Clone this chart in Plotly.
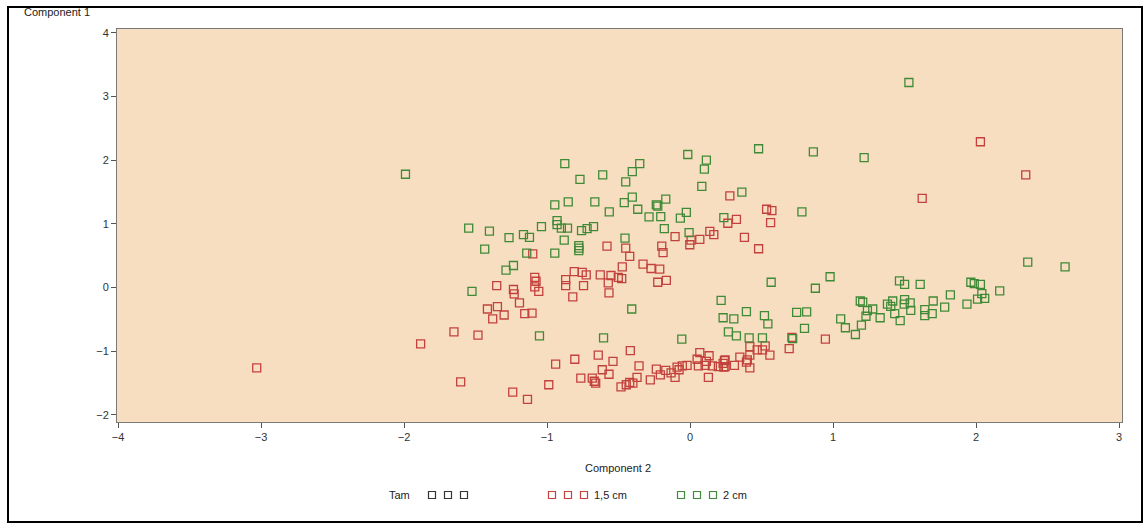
import plotly.graph_objects as go

# ---- data ----
red_x = [-3.03, -1.884, -1.651, -1.604, -1.483, -1.417, -1.347, -1.38, -1.30, -1.24, -1.193, -1.137,
         -1.156, -1.105, -1.352, -1.235, -1.23, -1.10, -1.086, -1.077, -1.086, -1.058, -0.988, -0.94,
         -0.87, -0.87, -0.82, -0.81, -0.806, -0.764, -0.754, -0.745, -0.726, -0.684, -0.67, -0.66,
         -0.642, -0.628, -0.614, -0.581, -0.572, -0.567, -0.567, -0.553, -0.539, -0.502, -0.483,
         -0.478, -0.474, -0.45, -0.446, -0.422, -0.422, -0.418, -0.40, -0.371, -0.357, -0.329,
         -0.278, -0.273, -0.236, -0.226, -0.212, -0.208, -0.198, -0.189, -0.17, -0.166, -0.133,
         -0.105, -0.105, -0.091, -0.077, -0.054, -0.021, -0.002, 0.007, 0.049, 0.058, 0.068, 0.068,
         0.105, 0.114, 0.128, 0.133, 0.138, 0.156, 0.166, 0.198, 0.231, 0.236, 0.24, 0.245, 0.245,
         0.264, 0.278, 0.31, 0.324, 0.348, 0.38, 0.394, 0.40, 0.418, 0.418, 0.418, 0.469, 0.479,
         0.506, 0.525, 0.535, 0.558, 0.563, 0.572, 0.693, 0.712, 0.946, 1.623, 2.03, 2.347]
red_y = [-1.26, -0.883, -0.694, -1.48, -0.746, -0.336, -0.30, -0.49, -0.43, -1.64, -0.24, -1.755,
         -0.41, -0.40, 0.03, -0.03, -0.10, 0.53, 0.16, 0.10, 0.01, -0.06, -1.525, -1.20,
         0.126, 0.03, -0.147, 0.25, -1.125, -1.42, 0.24, 0.03, 0.20, -1.42, -1.47, -1.50,
         -1.06, 0.20, -1.29, 0.65, 0.074, -0.084, -1.36, 0.19, -1.157, 0.16, -1.557,
         0.14, 0.326, 0.62, -1.525, 0.49, -1.49, -0.99, -1.50, -1.41, -1.23, 0.37,
         -1.45, 0.30, -1.28, 0.084, 0.29, -1.37, 0.65, 0.55, -1.30, 0.115, -1.34,
         0.80, -1.41, -1.25, -1.29, -1.23, -1.22, 0.673, 0.746, -1.125, -1.23, 0.757, -1.02,
         -1.22, -1.157, -1.41, -1.07, 0.883, -1.23, 0.831, -1.24, -1.19, -1.25, -1.147, -1.136, -1.24,
         1.01, 1.44, -1.22, 1.07, -1.09, 0.79, -1.17, -1.136, -0.926, -1.06, -1.26, -0.978, 0.61,
         -0.978, -0.915, 1.23, -1.06, 1.02, 1.21, -0.957, -0.78, -0.81, 1.40, 2.29, 1.77]

green_x = [-1.99, -1.548, -1.525, -1.436, -1.403, -1.287, -1.266, -1.235, -1.165, -1.142, -1.123,
           -1.053, -1.039, -0.946, -0.946, -0.93, -0.93, -0.90, -0.88, -0.876, -0.857, -0.852,
           -0.778, -0.778, -0.778, -0.77, -0.759, -0.72, -0.675, -0.666, -0.611, -0.605, -0.565,
           -0.46, -0.455, -0.45, -0.408, -0.404, -0.404, -0.366, -0.352, -0.287, -0.236, -0.226,
           -0.205, -0.18, -0.17, -0.068, -0.058, -0.026, -0.016, -0.007, 0.082, 0.10, 0.114,
           0.217, 0.231, 0.236, 0.268, 0.306, 0.324, 0.362, 0.394, 0.413, 0.479, 0.506, 0.52,
           0.544, 0.567, 0.717, 0.745, 0.782, 0.80, 0.815, 0.862, 0.876, 0.979, 1.053, 1.086,
           1.156, 1.19, 1.198, 1.207, 1.217, 1.23, 1.24, 1.277, 1.329, 1.38, 1.403, 1.417,
           1.431, 1.464, 1.469, 1.497, 1.50, 1.50, 1.53, 1.539, 1.543, 1.609, 1.641, 1.641,
           1.693, 1.70, 1.78, 1.82, 1.936, 1.963, 1.987, 2.01, 2.03, 2.04, 2.06, 2.165, 2.361, 2.622]
green_y = [1.78, 0.935, -0.06, 0.604, 0.888, 0.273, 0.784, 0.347, 0.831, 0.54, 0.789,
           -0.757, 0.957, 1.30, 0.54, 1.05, 0.99, 0.935, 0.746, 1.945, 0.935, 1.345,
           0.66, 0.62, 0.58, 1.70, 0.894, 0.926, 0.957, 1.345, 1.77, -0.79, 1.19,
           1.335, 0.778, 1.66, -0.336, 1.82, 1.42, 1.23, 1.945, 1.11, 1.30, 1.28,
           1.115, 0.926, 1.39, 1.09, -0.81, 1.18, 2.09, 0.863, 1.59, 1.86, 2.0,
           -0.2, -0.473, 1.10, -0.694, -0.49, -0.757, 1.50, -0.378, -0.79, 2.18, -0.79, -0.44,
           -0.57, 0.084, -0.80, -0.39, 1.19, -0.64, -0.38, 2.13, -0.01, 0.17, -0.49, -0.63,
           -0.736, -0.21, -0.59, -0.23, 2.04, -0.45, -0.36, -0.336, -0.473, -0.26, -0.295, -0.21,
           -0.41, 0.105, -0.52, -0.26, -0.19, 0.052, 3.22, -0.24, -0.357, 0.052, -0.347, -0.44,
           -0.41, -0.21, -0.305, -0.115, -0.26, 0.084, 0.063, -0.18, 0.052, -0.095, -0.17, -0.052, 0.40, 0.326]

x_ticks = [-4, -3, -2, -1, 0, 1, 2, 3]
y_ticks = [-2, -1, 0, 1, 2, 3, 4]
series_names = ["1,5 cm", "2 cm"]
legend_title = "Tam"

RED = "#C2413D"
GREEN = "#3F8A37"
BG = "#F8DEC1"
FONT = "Liberation Sans, Arial, sans-serif"

W, H = 1147, 524
L, R, T, B = 117, 25, 29, 102
PW, PH = W - L - R, H - T - B


def px_to_paper(px, py):
    return (px - L) / PW, (H - B - py) / PH


fig = go.Figure()
fig.add_trace(go.Scatter(x=red_x, y=red_y, mode="markers", name=series_names[0],
                         marker=dict(symbol="square-open", size=8, color=RED,
                                     line=dict(width=1.3, color=RED))))
fig.add_trace(go.Scatter(x=green_x, y=green_y, mode="markers", name=series_names[1],
                         marker=dict(symbol="square-open", size=8, color=GREEN,
                                     line=dict(width=1.3, color=GREEN))))

axis_common = dict(showgrid=False, zeroline=False, showline=True, linecolor="#7a7a7a",
                   linewidth=1, mirror=True, ticks="outside", ticklen=5, tickcolor="#555",
                   tickfont=dict(family=FONT, size=11, color="#333"))

fig.update_layout(
    width=W, height=H,
    margin=dict(l=L, r=R, t=T, b=B),
    paper_bgcolor="white", plot_bgcolor=BG,
    showlegend=False,
    xaxis=dict(range=[-4.007, 3.02], tickvals=x_ticks, **axis_common),
    yaxis=dict(range=[-2.11, 4.06], tickvals=y_ticks, **axis_common),
)

annotations = []
shapes = []

# axis titles
ax, ay = px_to_paper(22, 12)
annotations.append(dict(x=ax, y=ay, xref="paper", yref="paper", text="Component 1",
                        showarrow=False, xanchor="left", yanchor="middle",
                        font=dict(family=FONT, size=11, color="#222")))
ax, ay = px_to_paper(618, 468)
annotations.append(dict(x=ax, y=ay, xref="paper", yref="paper", text="Component 2",
                        showarrow=False, xanchor="center", yanchor="middle",
                        font=dict(family=FONT, size=11, color="#222")))

# legend (drawn manually to show three symbols per entry)
ly = 495
ax, ay = px_to_paper(412, ly)
annotations.append(dict(x=ax, y=ay, xref="paper", yref="paper", text=legend_title,
                        showarrow=False, xanchor="right", yanchor="middle",
                        font=dict(family=FONT, size=11, color="#222")))
groups = [([432, 448, 464], "#333333", None),
          ([552, 568, 584], RED, series_names[0]),
          ([681, 697, 713], GREEN, series_names[1])]
for centers, col, label in groups:
    for cx in centers:
        x0, y0 = px_to_paper(cx - 3.5, ly + 3.5)
        x1, y1 = px_to_paper(cx + 3.5, ly - 3.5)
        shapes.append(dict(type="rect", xref="paper", yref="paper", x0=x0, x1=x1, y0=y0, y1=y1,
                           line=dict(color=col, width=1.2)))
    if label:
        ax, ay = px_to_paper(centers[-1] + 8, ly)
        annotations.append(dict(x=ax, y=ay, xref="paper", yref="paper", text=label,
                                showarrow=False, xanchor="left", yanchor="middle",
                                font=dict(family=FONT, size=11, color="#222")))

# outer black frame
x0, y0 = px_to_paper(8, 522)
x1, y1 = px_to_paper(1142, 7)
shapes.append(dict(type="rect", xref="paper", yref="paper", x0=x0, x1=x1, y0=y0, y1=y1,
                   line=dict(color="black", width=2), layer="above"))

fig.update_layout(annotations=annotations, shapes=shapes)
fig.write_html("out.html")
